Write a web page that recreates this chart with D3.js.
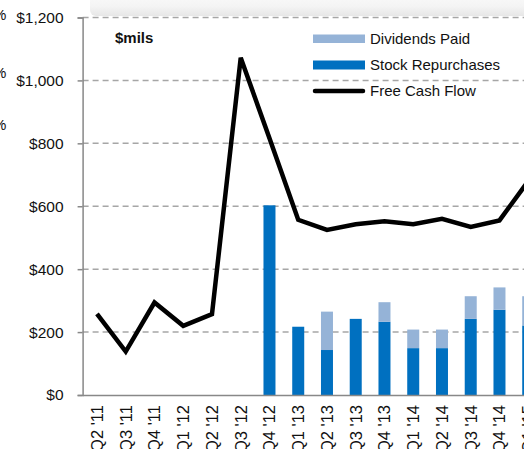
<!DOCTYPE html>
<html>
<head>
<meta charset="utf-8">
<script src="https://cdn.jsdelivr.net/npm/d3@7"></script>
<style>
  html, body { margin: 0; padding: 0; background: #fff; overflow: hidden; }
  body { width: 524px; height: 449px; }
  text { font-family: "Liberation Sans", Arial, sans-serif; fill: #111; }
</style>
</head>
<body>
<div id="chart"></div>
<script>
// quarters, the last one is cut off at the right edge
const quarters = ["Q2 '11", "Q3 '11", "Q4 '11", "Q1 '12", "Q2 '12", "Q3 '12", "Q4 '12", "Q1 '13",
    "Q2 '13", "Q3 '13", "Q4 '13", "Q1 '14", "Q2 '14", "Q3 '14", "Q4 '14", "Q1 '15"];
const repurchases = [0, 0, 0, 0, 0, 0, 603, 217, 143, 242, 233, 149, 149, 242, 271, 221];
const dividends = [0, 0, 0, 0, 0, 0, 0, 0, 122, 0, 62, 59, 59, 72, 71, 93];
const freeCashFlow = [258, 138, 294, 220, 257, 1072, 816, 557, 525, 543, 552, 543, 560, 534, 555, 680];
const yTicks = [0, 200, 400, 600, 800, 1000, 1200];
const legendItems = ["Dividends Paid", "Stock Repurchases", "Free Cash Flow"];

const margin = { top: 17.5, left: 82.6 };
const step = 28.75;
const plotH = 395 - margin.top;

const svg = d3.select("#chart").append("svg")
    .attr("width", 560)
    .attr("height", 449);

const x = d3.scaleBand()
    .domain(quarters)
    .range([margin.left, margin.left + step * quarters.length]);

const y = d3.scaleLinear()
    .domain([0, 1200])
    .range([margin.top + plotH, margin.top]);

// faint box from the slide above the chart
const grad = svg.append("defs").append("linearGradient")
    .attr("id", "topbox").attr("x1", 0).attr("y1", 0).attr("x2", 0).attr("y2", 1);
grad.append("stop").attr("offset", "0%").attr("stop-color", "#fbfbfb");
grad.append("stop").attr("offset", "60%").attr("stop-color", "#f4f4f4");
grad.append("stop").attr("offset", "100%").attr("stop-color", "#e6e6e6");
svg.append("rect")
    .attr("x", 90).attr("y", -8)
    .attr("width", 480).attr("height", 24)
    .attr("rx", 6)
    .attr("fill", "url(#topbox)");

// clipped "%" labels of the neighbouring chart
[15, 73, 125].forEach(py => {
    svg.append("text")
        .attr("x", -7).attr("y", py + 5)
        .style("font-size", "15px")
        .text("%");
});

// gridlines
svg.append("g")
    .selectAll("line")
    .data(yTicks.filter(d => d > 0))
    .join("line")
    .attr("x1", margin.left)
    .attr("x2", 560)
    .attr("y1", d => y(d))
    .attr("y2", d => y(d))
    .attr("stroke", "#a6a6a6")
    .attr("stroke-width", 1.5)
    .attr("stroke-dasharray", "6,4");

// stacked bars
const barW = 12;
const bars = svg.append("g");
quarters.forEach((q, i) => {
    const bx = x(q) + x.bandwidth() / 2 - barW / 2;
    if (repurchases[i] > 0) {
        bars.append("rect")
            .attr("x", bx).attr("width", barW)
            .attr("y", y(repurchases[i]))
            .attr("height", y(0) - y(repurchases[i]))
            .attr("fill", "#0070c0");
    }
    if (dividends[i] > 0) {
        bars.append("rect")
            .attr("x", bx).attr("width", barW)
            .attr("y", y(repurchases[i] + dividends[i]))
            .attr("height", y(repurchases[i]) - y(repurchases[i] + dividends[i]))
            .attr("fill", "#95b3d7");
    }
});

// free cash flow line
const line = d3.line()
    .x((d, i) => x(quarters[i]) + x.bandwidth() / 2)
    .y(d => y(d));

svg.append("path")
    .datum(freeCashFlow)
    .attr("d", line)
    .attr("fill", "none")
    .attr("stroke", "#000")
    .attr("stroke-width", 4.5)
    .attr("stroke-linejoin", "miter");

// axes
const yAxis = svg.append("g")
    .attr("transform", "translate(" + margin.left + ",0)")
    .call(d3.axisLeft(y).tickValues(yTicks).tickSize(5).tickPadding(14)
        .tickFormat(d => "$" + d3.format(",")(d)));
yAxis.select(".domain").attr("stroke", "#888").attr("stroke-width", 1.5);
yAxis.selectAll(".tick line").attr("stroke", "#888").attr("stroke-width", 1.5);
yAxis.selectAll("text")
    .style("font-size", "15.5px")
    .attr("fill", "#111");

const xAxis = svg.append("g")
    .attr("transform", "translate(0," + y(0) + ")")
    .call(d3.axisBottom(x).tickSize(0).tickPadding(0));
xAxis.select(".domain").attr("stroke", "#888").attr("stroke-width", 1.5);
xAxis.selectAll("text")
    .style("font-size", "16.5px")
    .attr("fill", "#111")
    .attr("text-anchor", "end")
    .attr("transform", "rotate(-90)")
    .attr("x", -10)
    .attr("y", 0)
    .attr("dy", "0.35em");

// units label
svg.append("text")
    .attr("x", 115).attr("y", 43)
    .style("font-size", "15px")
    .style("font-weight", "bold")
    .text("$mils");

// legend
const legend = svg.append("g").attr("transform", "translate(313,0)");
const rowY = [39, 65, 91];
legend.append("rect").attr("x", 0).attr("y", rowY[0] - 4.5).attr("width", 52).attr("height", 8.5).attr("fill", "#95b3d7");
legend.append("rect").attr("x", 0).attr("y", rowY[1] - 4.5).attr("width", 52).attr("height", 9).attr("fill", "#0070c0");
legend.append("line").attr("x1", 2).attr("x2", 50).attr("y1", rowY[2]).attr("y2", rowY[2])
    .attr("stroke", "#000").attr("stroke-width", 4.5).attr("stroke-linecap", "round");
legend.selectAll("text.leg")
    .data(legendItems)
    .join("text")
    .attr("class", "leg")
    .attr("x", 57)
    .attr("y", (d, i) => rowY[i])
    .attr("dy", "0.36em")
    .style("font-size", "15px")
    .text(d => d);
</script>
</body>
</html>
